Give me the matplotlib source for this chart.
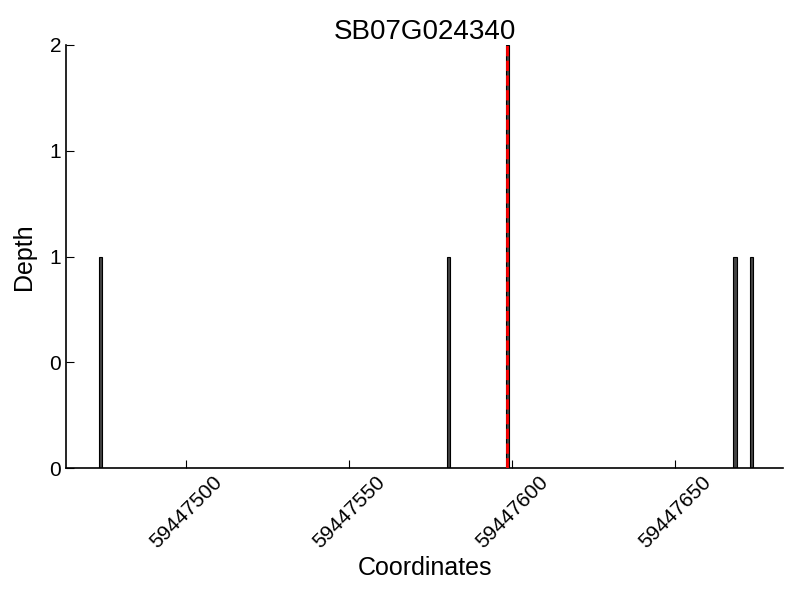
import matplotlib
matplotlib.use("Agg")
import matplotlib.pyplot as plt
from matplotlib.ticker import FormatStrFormatter

plt.rcParams['font.family'] = ['Liberation Sans', 'DejaVu Sans']

title = "SB07G024340"
positions = [59447473, 59447580, 59447598, 59447668, 59447673]
depths = [1, 1, 2, 1, 1]
marker_pos = 59447598.5
xticks = [59447500, 59447550, 59447600, 59447650]
yticks = [0, 0.5, 1, 1.5, 2]

fig = plt.figure(figsize=(8, 6), dpi=100)
ax = fig.add_axes([0.0825, 0.22, 0.8965, 0.705])
ax.bar(positions, depths, width=1, align='edge', color='#444444',
       edgecolor='black', linewidth=0.8)
ax.axvline(marker_pos, color='red', linestyle='--', linewidth=2, zorder=3)

ax.set_xlim(59447463, 59447683.3)
ax.set_ylim(0, 2)
ax.set_xticks(xticks)
ax.set_xticklabels([str(t) for t in xticks], rotation=45, fontsize=15)
ax.set_yticks(yticks)
ax.yaxis.set_major_formatter(FormatStrFormatter('%d'))
ax.tick_params(axis='y', labelsize=15)
ax.tick_params(direction='in', length=6, width=0.8)
for s in ('left', 'bottom'):
    ax.spines[s].set_linewidth(1.2)
ax.spines['top'].set_visible(False)
ax.spines['right'].set_visible(False)
ax.set_xlabel("Coordinates", fontsize=18, labelpad=3)
ax.set_ylabel("Depth", fontsize=18, labelpad=10)
ax.set_title(title, fontsize=20, pad=0)

fig.savefig("out.png", dpi=100)
